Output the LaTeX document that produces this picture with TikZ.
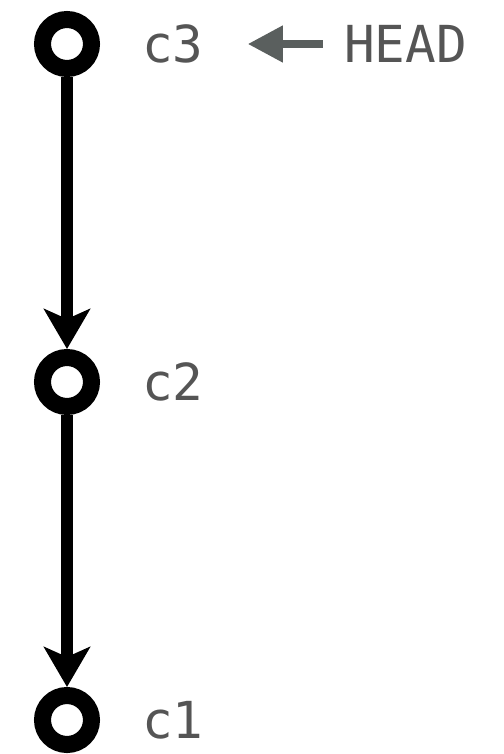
\documentclass[tikz,border=0pt]{standalone}
\usepackage{fontspec}
\setmonofont{DejaVu Sans Mono}
\usetikzlibrary{arrows.meta,positioning}
\definecolor{labelgray}{HTML}{555555}
\definecolor{headgray}{HTML}{5A5F5E}

\begin{document}
\begin{tikzpicture}[
    node distance=272pt,
    commit/.style={circle,draw,line width=17pt,minimum size=49pt,inner sep=0pt},
    commitlabel/.style={font=\ttfamily\fontsize{51}{51}\selectfont,text=labelgray,inner sep=0pt,anchor=west},
    parentedge/.style={line width=12pt,-{Stealth[length=40pt,width=46pt,inset=10pt]}},
    headarrow/.style={headgray,line width=7.5pt,-{Triangle[length=35pt,width=35pt]}}
]
    \node[commit] (c3) at (0,0) {};
    \node[commit,below=of c3] (c2) {};
    \node[commit,below=of c2] (c1) {};

    \node[commitlabel,right=42pt of c3.east] (c3label) {c3};
    \node[commitlabel,right=42pt of c2.east] (c2label) {c2};
    \node[commitlabel,right=42pt of c1.east] (c1label) {c1};

    \node[commitlabel,right=140pt of c3label.east] (head) {HEAD};

    \draw[parentedge] (c3) -- (c2);
    \draw[parentedge] (c2) -- (c1);
    \draw[headarrow,shorten <=21pt,shorten >=44pt] (head.west) -- (c3label.east);

    \useasboundingbox (c3.center) ++(-67pt,44pt) rectangle ++(503pt,-754pt);
\end{tikzpicture}
\end{document}
